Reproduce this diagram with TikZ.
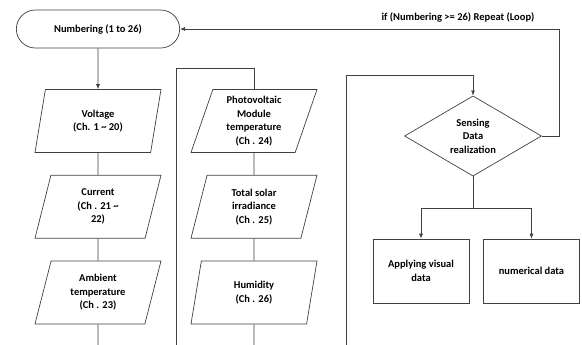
\documentclass[tikz,border=0pt]{standalone}
\usepackage{fontspec}
\setmainfont{Carlito}
\usetikzlibrary{arrows.meta,positioning,shapes.geometric,shapes.misc}

\begin{document}
\begin{tikzpicture}[
  x=1pt, y=-1pt,
  node distance=22pt,
  font=\fontsize{10.5}{13.5}\selectfont\bfseries,
  line/.style={draw=black!75, line width=0.7pt},
  arrow/.style={line, -{Latex[length=5pt,width=4pt]}},
  termbox/.style={
    rounded rectangle, line, minimum width=170pt, minimum height=38pt,
    align=center,
  },
  iobox/.style={
    trapezium, trapezium left angle=67, trapezium right angle=113,
    trapezium stretches body, line, minimum width=126pt, minimum height=63pt,
    align=center, inner sep=1pt,
  },
  decision/.style={
    diamond, line, minimum width=137pt, minimum height=77pt,
    align=center, inner sep=0pt,
  },
  outbox/.style={
    rectangle, line, minimum width=96pt, minimum height=64pt,
    align=center,
  },
]
\useasboundingbox (0,0) rectangle (582,345);

% Start: channel numbering
\node[termbox] (num) at (98,29) {Numbering (1 to 26)};
\node (looplbl) at (458,17) {if (Numbering >= 26) Repeat (Loop)};

% First column of channels
\node[iobox] (volt) at (98,121) {Voltage\\(Ch. 1 \textasciitilde{} 20)};
\node[iobox, below=of volt] (curr) {Current\\(Ch . 21 \textasciitilde\\22)};
\node[iobox, below=of curr] (amb) {Ambient\\temperature\\(Ch . 23)};

% Second column of channels
\node[iobox] (pvtemp) at (254,121) {Photovoltaic\\Module\\temperature\\(Ch . 24)};
\node[iobox, below=of pvtemp] (solar) {Total solar\\irradiance\\(Ch . 25)};
\node[iobox, below=of solar] (humid) {Humidity\\(Ch . 26)};

% Sensing and outputs
\node[decision] (sense) at (473,136) {Sensing\\Data\\realization};
\node[outbox] (visual) at (421,271) {Applying visual\\data};
\node[outbox] (numer) at (531.5,271) {numerical data};

\coordinate (c1end) at (98,345);
\coordinate (c2bot) at (176,345);
\coordinate (c2top) at (176,68);
\coordinate (c2end) at (254,345);
\coordinate (c3bot) at (346,345);
\coordinate (c3top) at (346,75);
\coordinate (split) at (473,208);
\coordinate (loopcorner) at (559,29);

\draw[arrow] (num) -- (volt);
\draw[line] (volt) -- (curr);
\draw[line] (curr) -- (amb);
\draw[line] (amb) -- (c1end);

\draw[line] (c2bot) -- (c2top) -| (pvtemp.north);
\draw[line] (pvtemp) -- (solar);
\draw[line] (solar) -- (humid);
\draw[line] (humid) -- (c2end);

\draw[arrow] (c3bot) -- (c3top) -| (sense.north);
\draw[arrow] (sense.east) -| (loopcorner) -- (num.east);
\draw[line] (sense.south) -- (split);
\draw[arrow] (split) -| (visual.north);
\draw[arrow] (split) -| (numer.north);

\end{tikzpicture}
\end{document}
